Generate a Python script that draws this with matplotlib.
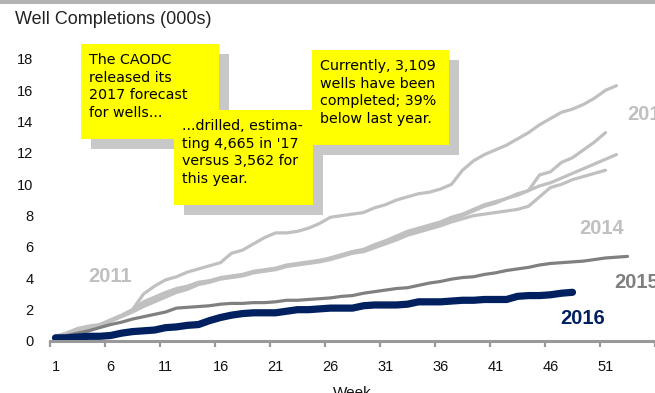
import numpy as np
import matplotlib
matplotlib.use("Agg")
import matplotlib.pyplot as plt
from matplotlib.patches import Rectangle

# weekly cumulative well completions, thousands
weeks_52 = list(range(1, 53))
weeks_51 = list(range(1, 52))

base_bundle = [0.3, 0.5, 0.75, 0.9, 1.0, 1.3, 1.6, 1.9, 2.3, 2.6,
               2.9, 3.2, 3.4, 3.7, 3.8, 4.0, 4.1, 4.2, 4.4, 4.5,
               4.6, 4.8, 4.9, 5.0, 5.1, 5.3, 5.5, 5.7, 5.8, 6.1,
               6.3, 6.6, 6.9, 7.1, 7.3, 7.5, 7.8, 8.0, 8.3, 8.6]

y2012 = [0.2, 0.35, 0.6, 0.8, 1.0, 1.3, 1.6, 2.0, 3.0, 3.5,
         3.9, 4.1, 4.4, 4.6, 4.8, 5.0, 5.6, 5.8, 6.2, 6.6,
         6.9, 6.9, 7.0, 7.2, 7.5, 7.9, 8.0, 8.1, 8.2, 8.5,
         8.7, 9.0, 9.2, 9.4, 9.5, 9.7, 10.0, 10.9, 11.5, 11.9,
         12.2, 12.5, 12.9, 13.3, 13.8, 14.2, 14.6, 14.8, 15.1, 15.5,
         16.0, 16.3]

y2011 = [0.3, 0.5, 0.8, 0.95, 1.05, 1.35, 1.65, 2.0, 2.5, 2.8,
         3.1, 3.35, 3.5, 3.75, 3.85, 4.05, 4.15, 4.25, 4.45, 4.55,
         4.65, 4.85, 4.95, 5.05, 5.15, 5.3, 5.5, 5.7, 5.85, 6.15,
         6.4, 6.7, 7.0, 7.2, 7.4, 7.6, 7.9, 8.1, 8.4, 8.7,
         8.9, 9.1, 9.4, 9.6, 10.6, 10.8, 11.4, 11.7, 12.2, 12.7,
         13.3]

y2013 = base_bundle + [8.8, 9.1, 9.3, 9.6, 9.9, 10.1, 10.4, 10.7, 11.0, 11.3,
                       11.6, 11.9]

y2014 = [0.25, 0.45, 0.7, 0.85, 0.95, 1.25, 1.55, 1.85, 2.2, 2.5,
         2.8, 3.1, 3.3, 3.6, 3.75, 3.95, 4.05, 4.15, 4.35, 4.45,
         4.55, 4.75, 4.85, 4.95, 5.05, 5.2, 5.4, 5.6, 5.7, 5.95,
         6.2, 6.45, 6.75, 6.95, 7.15, 7.35, 7.6, 7.8, 8.0, 8.1,
         8.2, 8.3, 8.4, 8.6, 9.2, 9.8, 10.0, 10.3, 10.5, 10.7,
         10.9]

weeks_2015 = list(range(1, 54))
y2015 = [0.25, 0.35, 0.5, 0.65, 0.85, 1.05, 1.2, 1.4, 1.55, 1.7,
         1.85, 2.1, 2.15, 2.2, 2.25, 2.35, 2.4, 2.4, 2.45, 2.45,
         2.5, 2.6, 2.6, 2.65, 2.7, 2.75, 2.85, 2.9, 3.05, 3.15,
         3.25, 3.35, 3.4, 3.55, 3.7, 3.8, 3.95, 4.05, 4.1, 4.25,
         4.35, 4.5, 4.6, 4.7, 4.85, 4.95, 5.0, 5.05, 5.1, 5.2,
         5.3, 5.35, 5.4]

weeks_2016 = list(range(1, 49))
y2016 = [0.2, 0.2, 0.25, 0.3, 0.3, 0.35, 0.5, 0.6, 0.65, 0.7,
         0.85, 0.9, 1.0, 1.05, 1.3, 1.5, 1.65, 1.75, 1.8, 1.8,
         1.8, 1.9, 2.0, 2.0, 2.05, 2.1, 2.1, 2.1, 2.25, 2.3,
         2.3, 2.3, 2.35, 2.5, 2.5, 2.5, 2.55, 2.6, 2.6, 2.65,
         2.65, 2.65, 2.85, 2.9, 2.9, 2.95, 3.05, 3.109]

xtick_weeks = list(range(1, 52, 5))
yticks = list(range(0, 19, 2))

W, H = 655, 393


def fx(x):
    return x / W


def fy(y):
    return 1 - y / H


fig = plt.figure(figsize=(W / 100, H / 100), dpi=100)
plt.rcParams['font.family'] = ['Liberation Sans', 'DejaVu Sans']

# axes in pixel layout: left 50, right 655, top 59, bottom 341
ax = fig.add_axes([fx(50), fy(341), fx(605), (341 - 59) / H])
ax.set_xlim(0.5, 53.5)
ax.set_ylim(0, 18)

light = "#c0c0c0"
ax.plot(weeks_52, y2012, color=light, lw=2.3, solid_capstyle="round")
ax.plot(weeks_51, y2011, color=light, lw=2.3, solid_capstyle="round")
ax.plot(weeks_52, y2013, color=light, lw=2.3, solid_capstyle="round")
ax.plot(weeks_51, y2014, color=light, lw=2.3, solid_capstyle="round")
ax.plot(weeks_2015, y2015, color="#808080", lw=2.3, solid_capstyle="round")
ax.plot(weeks_2016, y2016, color="#002060", lw=5.2, solid_capstyle="round")

for s in ["top", "right", "left"]:
    ax.spines[s].set_visible(False)
ax.spines["bottom"].set_color("#999999")
ax.spines["bottom"].set_linewidth(2.2)

ax.set_xticks(xtick_weeks)
ax.set_xticklabels([str(w) for w in xtick_weeks])
ax.set_xticks([w - 0.5 for w in xtick_weeks] + [55.5], minor=True)
ax.tick_params(axis="x", which="major", length=0, pad=14, labelsize=10.5, colors="#111111")
ax.tick_params(axis="x", which="minor", length=4, width=1.6, color="#999999")
ax.set_yticks(yticks)
ax.tick_params(axis="y", length=0, pad=12, labelsize=10.5, colors="#111111")
ax.set_xlabel("Week", fontsize=11, color="#111111", labelpad=8)

# series labels
ax.text(fx(88), fy(277), "2011", transform=fig.transFigure, fontsize=14.5,
        fontweight="bold", color=light, va="center")
ax.text(fx(627), fy(114), "2012", transform=fig.transFigure, fontsize=14.5,
        fontweight="bold", color=light, va="center")
ax.text(fx(579), fy(228), "2014", transform=fig.transFigure, fontsize=14.5,
        fontweight="bold", color=light, va="center")
ax.text(fx(614), fy(282), "2015", transform=fig.transFigure, fontsize=14.5,
        fontweight="bold", color="#7f7f7f", va="center")
ax.text(fx(560), fy(318), "2016", transform=fig.transFigure, fontsize=14.5,
        fontweight="bold", color="#002060", va="center")

# header bar and title
fig.patches.append(Rectangle((0, fy(4)), 1, 4 / H, transform=fig.transFigure,
                             facecolor="#b3b3b3", edgecolor="none"))
fig.text(fx(15), fy(20), "Well Completions (000s)", fontsize=13,
         color="#222222", va="center")


# yellow callouts with drop shadow
def callout(x0, y0, x1, y1, text):
    fig.patches.append(Rectangle((fx(x0 + 10), fy(y1 + 10)), fx(x1 - x0), (y1 - y0) / H,
                                 transform=fig.transFigure, facecolor="#c8c8c8",
                                 edgecolor="none", zorder=5))
    fig.patches.append(Rectangle((fx(x0), fy(y1)), fx(x1 - x0), (y1 - y0) / H,
                                 transform=fig.transFigure, facecolor="#ffff00",
                                 edgecolor="none", zorder=5))
    fig.text(fx(x0 + 8), fy(y0 + 9), text, fontsize=10.3, family="DejaVu Sans",
             color="black", va="top", ha="left", linespacing=1.32, zorder=6)


callout(81, 44, 219, 139, "The CAODC\nreleased its\n2017 forecast\nfor wells...")
callout(174, 110, 313, 205, "...drilled, estima-\nting 4,665 in '17\nversus 3,562 for\nthis year.")
callout(312, 50, 449, 145, "Currently, 3,109\nwells have been\ncompleted; 39%\nbelow last year.")

fig.savefig("out.png", dpi=100)
